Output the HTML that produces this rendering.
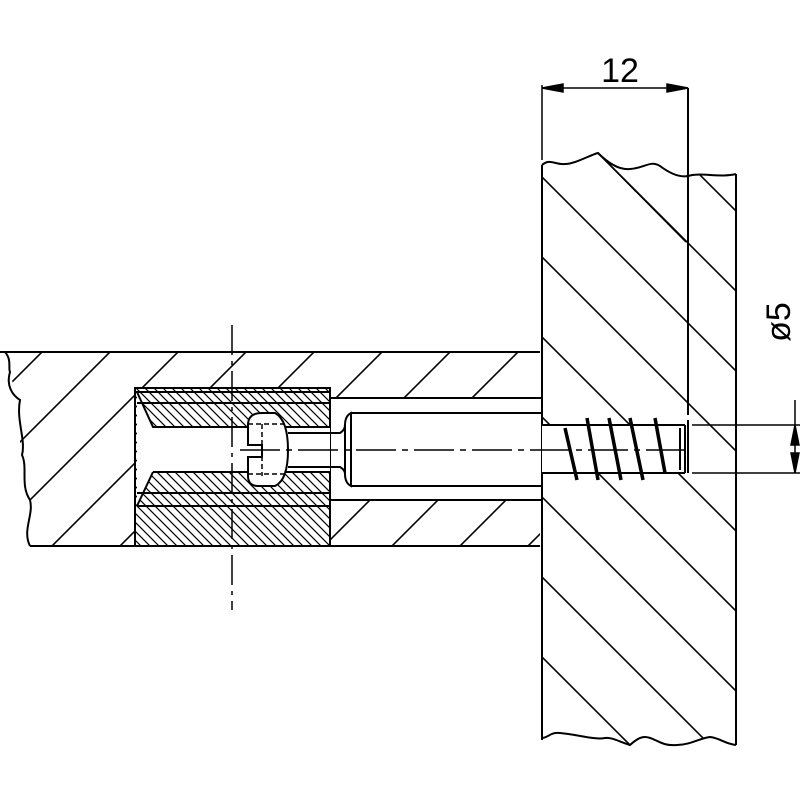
<!DOCTYPE html>
<html><head><style>html,body{margin:0;padding:0;background:#fff}svg{display:block}</style></head>
<body>
<svg width="800" height="800" viewBox="0 0 800 800" xmlns="http://www.w3.org/2000/svg">
<defs>
<pattern id="hl" patternUnits="userSpaceOnUse" width="68" height="68" patternTransform="translate(42,352)">
<path d="M0,68 L68,0 M-34,34 L34,-34 M34,102 L102,34" stroke="#000" stroke-width="1.6"/>
</pattern>
<pattern id="hw" patternUnits="userSpaceOnUse" width="80" height="80" patternTransform="translate(542,657)">
<path d="M0,0 L80,80 M-40,40 L40,120 M40,-40 L120,40" stroke="#000" stroke-width="1.6"/>
</pattern>
<pattern id="hh" patternUnits="userSpaceOnUse" width="9" height="9">
<rect width="9" height="9" fill="#fff"/>
<path d="M0,0 L9,9 M-4.5,4.5 L4.5,13.5 M4.5,-4.5 L13.5,4.5" stroke="#000" stroke-width="1.2"/>
</pattern>
</defs>
<g fill="none" stroke="#000" stroke-width="2">
<path d="M5,352 L540,352 L540,546 L30,546 C22,530 34,515 30,500 C24,485 34,470 22,455 C16,440 26,420 20,400 C14,390 12,380 10,372 C8,362 4,357 5,352 Z" fill="url(#hl)" stroke="none"/>
<path d="M0,352 L540,352 M30,546 L540,546 M5,352 C12,360 8,368 10,372 C6,385 12,395 20,400 C16,420 26,440 22,455 C28,468 20,485 30,500 C34,515 22,530 30,546" />
<rect x="330" y="398" width="212" height="102" fill="#fff"/>
<rect x="135" y="388" width="195" height="158" fill="#fff"/>
<rect x="135" y="388" width="195" height="158" fill="url(#hh)"/>
<path d="M137,392 L153,427 L330,427 L330,472 L153,472 L137,506 Z" fill="#fff" stroke="none"/>
<path d="M135,392 L330,392 M137,403 L330,403 M137,392 L153,427 L330,427 M153,472 L330,472 M153,472 L137,506 M137,493 L330,493 M137,506 L330,506"/>
<path d="M542,165 C550,158 555,165 565,164 C575,164 590,155 598,153 C610,165 620,170 630,169 C645,168 650,160 660,166 C668,172 678,178 688,176 C700,172 720,178 736,174 L736,742 C725,744 720,738 710,737 C700,738 690,745 677,745 C665,746 660,742 655,740 C645,735 640,736 630,745 C620,742 612,737 605,738 C595,740 580,735 560,733 C550,732 548,738 542,738 Z" fill="url(#hw)" stroke="none"/>
<path d="M542,165 L542,740 M736,174 L736,745 M688,88 L688,415 M542,165 C550,158 555,165 565,164 C575,164 590,155 598,153 C610,165 620,170 630,169 C645,168 650,160 660,166 C668,172 678,178 688,176 C700,172 720,178 736,174 M542,738 C548,738 550,732 560,733 C580,735 595,740 605,738 C612,737 620,742 630,745 C640,736 645,735 655,740 C660,742 665,746 677,745 C690,745 700,738 710,737 C720,738 725,744 736,745"/>
<path d="M598,153 L686,242" stroke-width="1.6"/>
<rect x="542" y="425" width="146" height="48" fill="#fff" stroke="none"/>
<path d="M542,425 L685,425 M542,473 L685,473 M688,420 L688,473 M680,428 L680,470 M685,425 L685,473"/>
<path d="M565,428 L577,480 M587,418 L598,480 M609,418 L621,480 M630,418 L643,480 M655,418 L665,473" stroke-width="3.5"/>
<path d="M351,413 L542,413 M351,486 L542,486 M351,413 Q345,416 345,425 L345,474 Q345,483 351,486 Z" fill="#fff"/>
<path d="M288,433 L340,433 Q345,430 345,425 M288,467 L340,467 Q345,470 345,474"/>
<path d="M262,413 L275,413 Q288,420 288,450 Q288,480 275,486 L258,486 Q248,486 248,476 L248,457 L262,457 L262,445 L248,445 L248,425 Q248,413 262,413 Z" fill="#fff"/>
<path d="M248,424 L285,424 M248,474 L285,474 M262,424 L262,476" stroke-dasharray="5,3" stroke-width="1.5"/>
</g>
<g stroke="#000" stroke-width="1.5" fill="none">
<path d="M232,325 L232,610" stroke-dasharray="30,6,4,6"/>
<path d="M240,450 L688,450" stroke-dasharray="40,6,6,6"/>
</g>
<g stroke="#000" stroke-width="1.5" fill="#000">
<line x1="542" y1="85" x2="542" y2="160"/>
<line x1="542" y1="88" x2="688" y2="88"/>
<path d="M542,88 L563,84 L563,92 Z"/>
<path d="M688,88 L667,84 L667,92 Z"/>
<line x1="692" y1="425" x2="800" y2="425"/>
<line x1="692" y1="473" x2="800" y2="473"/>
<line x1="795" y1="400" x2="795" y2="473"/>
<path d="M795,425 L791,445 L799,445 Z"/>
<path d="M795,473 L791,453 L799,453 Z"/>
</g>
<text x="620" y="82" font-family="Liberation Sans Narrow, Liberation Sans, sans-serif" font-size="34" text-anchor="middle">12</text>
<text transform="translate(790,322) rotate(-90)" font-family="Liberation Sans Narrow, Liberation Sans, sans-serif" font-size="34" text-anchor="middle">ø5</text>
</svg>
</body></html>
